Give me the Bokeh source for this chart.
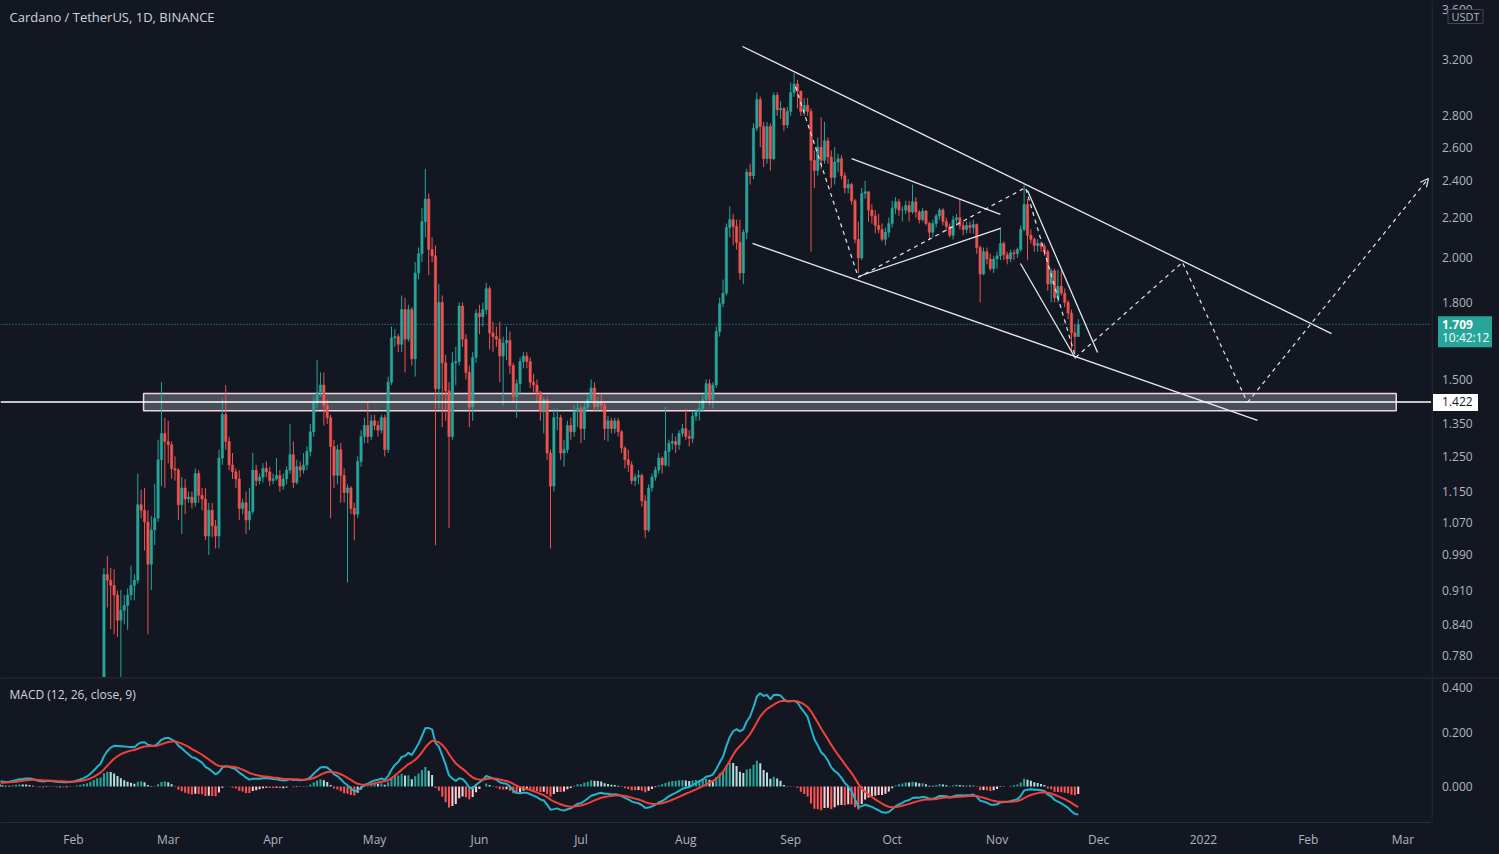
import math
import numpy as np
import pandas as pd
from bokeh.plotting import figure
from bokeh.layouts import column, row
from bokeh.models import (Range1d, FixedTicker, Span, Label, Arrow, OpenHead,
                          ColumnDataSource, CustomJSTickFormatter)
from bokeh.core.properties import value
from bokeh.embed import file_html
from bokeh.resources import INLINE

# ------------------------------------------------------------------ data
# daily closes before the visible price range (Jan 1 - Feb 9, 2021), used for MACD warm-up
early_close = [0.240, 0.250, 0.270, 0.290, 0.300, 0.310, 0.315, 0.305, 0.310, 0.320,
               0.285, 0.290, 0.310, 0.345, 0.360, 0.370, 0.360, 0.370, 0.360, 0.340,
               0.300, 0.320, 0.330, 0.365, 0.350, 0.350, 0.330, 0.350, 0.340, 0.350,
               0.365, 0.390, 0.410, 0.430, 0.460, 0.490, 0.560, 0.620, 0.680, 0.700]

feb_close = [0.945, 0.932, 0.921, 0.900, 0.848, 0.868, 0.878, 0.900, 0.921, 0.932, 1.115, 1.100, 1.070, 0.968, 1.050, 1.080, 1.240, 1.320, 1.295]
feb_high = [0.960, 0.987, 0.960, 0.957, 0.910, 0.911, 0.900, 0.914, 0.965, 0.945, 1.200, 1.155, 1.160, 1.100, 1.085, 1.170, 1.300, 1.490, 1.370]
feb_low = [0.680, 0.874, 0.830, 0.820, 0.815, 0.720, 0.840, 0.829, 0.889, 0.889, 0.925, 1.080, 1.000, 0.820, 0.911, 1.013, 1.070, 1.165, 1.160]

mar_close = [1.285, 1.215, 1.210, 1.115, 1.160, 1.130, 1.135, 1.120, 1.200, 1.140, 1.130, 1.035, 1.100, 1.060, 1.035, 1.245, 1.380, 1.295, 1.225, 1.205, 1.185, 1.105, 1.120, 1.075, 1.097, 1.210, 1.180, 1.190, 1.215, 1.205, 1.180]
mar_high = [1.360, 1.295, 1.250, 1.215, 1.190, 1.185, 1.150, 1.150, 1.215, 1.210, 1.160, 1.160, 1.120, 1.120, 1.075, 1.270, 1.435, 1.480, 1.310, 1.260, 1.215, 1.210, 1.130, 1.150, 1.160, 1.260, 1.225, 1.200, 1.230, 1.235, 1.220]
mar_low = [1.230, 1.185, 1.180, 1.075, 1.040, 1.090, 1.120, 1.105, 1.110, 1.120, 1.100, 1.025, 0.990, 1.032, 1.005, 1.005, 1.225, 1.270, 1.210, 1.185, 1.160, 1.075, 1.090, 1.040, 1.050, 1.090, 1.165, 1.170, 1.175, 1.190, 1.165]

apr_close = [1.185, 1.195, 1.165, 1.185, 1.210, 1.255, 1.175, 1.220, 1.210, 1.225, 1.265, 1.325, 1.420, 1.455, 1.480, 1.410, 1.370, 1.280, 1.195, 1.270, 1.195, 1.147, 1.160, 1.105, 1.090, 1.235, 1.310, 1.345, 1.310, 1.360]
apr_high = [1.200, 1.245, 1.210, 1.200, 1.220, 1.350, 1.295, 1.240, 1.235, 1.260, 1.280, 1.350, 1.440, 1.570, 1.525, 1.525, 1.430, 1.380, 1.300, 1.285, 1.290, 1.215, 1.170, 1.165, 1.120, 1.250, 1.330, 1.370, 1.420, 1.380]
apr_low = [1.170, 1.180, 1.150, 1.155, 1.170, 1.200, 1.160, 1.170, 1.190, 1.200, 1.210, 1.250, 1.310, 1.400, 1.440, 1.345, 1.350, 1.080, 1.160, 1.170, 1.120, 1.120, 0.927, 1.090, 1.025, 1.080, 1.220, 1.290, 1.290, 1.300]

may_close = [1.345, 1.330, 1.370, 1.270, 1.490, 1.655, 1.660, 1.630, 1.770, 1.650, 1.770, 1.575, 1.930, 2.020, 2.180, 2.300, 2.040, 2.010, 1.467, 1.800, 1.560, 1.460, 1.310, 1.560, 1.565, 1.785, 1.650, 1.525, 1.405, 1.580, 1.755]
may_high = [1.380, 1.360, 1.380, 1.380, 1.510, 1.700, 1.690, 1.670, 1.830, 1.820, 1.790, 1.780, 1.980, 2.050, 2.250, 2.470, 2.330, 2.100, 2.060, 1.880, 1.830, 1.590, 1.490, 1.600, 1.620, 1.800, 1.800, 1.670, 1.550, 1.600, 1.770]
may_low = [1.330, 1.310, 1.320, 1.250, 1.260, 1.480, 1.620, 1.600, 1.600, 1.525, 1.640, 1.550, 1.510, 1.900, 1.980, 2.100, 1.920, 1.980, 1.013, 1.400, 1.340, 1.360, 1.055, 1.300, 1.480, 1.550, 1.620, 1.500, 1.340, 1.360, 1.560]

jun_close = [1.740, 1.770, 1.860, 1.675, 1.660, 1.650, 1.585, 1.635, 1.645, 1.550, 1.440, 1.485, 1.565, 1.585, 1.565, 1.490, 1.480, 1.455, 1.390, 1.430, 1.260, 1.165, 1.370, 1.370, 1.260, 1.270, 1.345, 1.325, 1.390, 1.400]
jun_high = [1.790, 1.800, 1.885, 1.870, 1.720, 1.700, 1.720, 1.660, 1.700, 1.680, 1.560, 1.500, 1.580, 1.600, 1.600, 1.580, 1.520, 1.500, 1.460, 1.440, 1.440, 1.270, 1.400, 1.400, 1.380, 1.300, 1.360, 1.370, 1.410, 1.420]
jun_low = [1.670, 1.700, 1.750, 1.610, 1.600, 1.620, 1.490, 1.410, 1.570, 1.520, 1.420, 1.370, 1.450, 1.540, 1.540, 1.470, 1.450, 1.420, 1.360, 1.320, 1.240, 1.005, 1.150, 1.330, 1.240, 1.220, 1.260, 1.300, 1.310, 1.340]

jul_close = [1.335, 1.405, 1.430, 1.470, 1.405, 1.420, 1.410, 1.335, 1.360, 1.335, 1.360, 1.325, 1.275, 1.240, 1.225, 1.180, 1.190, 1.195, 1.125, 1.050, 1.160, 1.190, 1.210, 1.245, 1.225, 1.265, 1.290, 1.295, 1.285, 1.320, 1.335]
jul_high = [1.410, 1.420, 1.450, 1.500, 1.490, 1.440, 1.450, 1.420, 1.375, 1.370, 1.370, 1.370, 1.330, 1.280, 1.270, 1.235, 1.200, 1.210, 1.200, 1.140, 1.170, 1.200, 1.220, 1.260, 1.250, 1.405, 1.300, 1.320, 1.310, 1.330, 1.350]
jul_low = [1.290, 1.300, 1.395, 1.420, 1.390, 1.390, 1.390, 1.300, 1.295, 1.320, 1.320, 1.310, 1.260, 1.215, 1.205, 1.170, 1.165, 1.170, 1.110, 1.030, 1.045, 1.150, 1.180, 1.200, 1.200, 1.220, 1.220, 1.270, 1.260, 1.270, 1.310]

aug_close = [1.310, 1.305, 1.375, 1.390, 1.400, 1.430, 1.485, 1.430, 1.480, 1.680, 1.795, 1.840, 2.150, 2.190, 2.155, 2.075, 1.930, 2.125, 2.450, 2.430, 2.720, 2.910, 2.730, 2.530, 2.730, 2.530, 2.940, 2.840, 2.850, 2.740, 2.830]
aug_high = [1.400, 1.330, 1.390, 1.400, 1.420, 1.450, 1.500, 1.500, 1.490, 1.700, 1.820, 1.900, 2.170, 2.260, 2.220, 2.190, 2.190, 2.140, 2.470, 2.500, 2.750, 2.960, 2.930, 2.760, 2.760, 2.750, 2.960, 2.960, 2.900, 2.860, 2.860]
aug_low = [1.300, 1.280, 1.290, 1.360, 1.360, 1.390, 1.420, 1.410, 1.400, 1.470, 1.660, 1.780, 1.830, 2.100, 2.060, 2.040, 1.900, 1.880, 2.090, 2.380, 2.410, 2.700, 2.600, 2.480, 2.500, 2.460, 2.520, 2.800, 2.780, 2.700, 2.720]

sep_close = [2.960, 3.020, 2.970, 2.830, 2.870, 2.830, 2.520, 2.460, 2.600, 2.520, 2.640, 2.540, 2.420, 2.510, 2.530, 2.430, 2.360, 2.380, 2.290, 2.090, 2.000, 2.330, 2.340, 2.240, 2.210, 2.160, 2.140, 2.090, 2.125, 2.170]
sep_high = [3.030, 3.100, 3.050, 2.970, 2.920, 2.920, 2.850, 2.580, 2.660, 2.790, 2.760, 2.660, 2.580, 2.600, 2.560, 2.550, 2.450, 2.410, 2.390, 2.300, 2.180, 2.360, 2.400, 2.340, 2.270, 2.240, 2.220, 2.170, 2.150, 2.200]
sep_low = [2.800, 2.930, 2.850, 2.800, 2.800, 2.800, 2.030, 2.360, 2.430, 2.470, 2.500, 2.500, 2.360, 2.380, 2.450, 2.410, 2.330, 2.330, 2.270, 2.070, 1.930, 1.990, 2.300, 2.180, 2.170, 2.120, 2.120, 2.080, 2.060, 2.100]

oct_close = [2.250, 2.285, 2.240, 2.240, 2.265, 2.230, 2.285, 2.230, 2.190, 2.235, 2.170, 2.125, 2.170, 2.210, 2.240, 2.180, 2.155, 2.110, 2.190, 2.200, 2.160, 2.140, 2.160, 2.150, 2.165, 2.050, 1.925, 2.030, 1.995, 1.950, 1.995]
oct_high = [2.290, 2.310, 2.300, 2.260, 2.290, 2.290, 2.380, 2.310, 2.240, 2.250, 2.240, 2.180, 2.190, 2.220, 2.250, 2.250, 2.200, 2.170, 2.210, 2.220, 2.300, 2.180, 2.180, 2.180, 2.190, 2.170, 2.060, 2.050, 2.050, 2.020, 2.010]
oct_low = [2.150, 2.220, 2.210, 2.180, 2.220, 2.180, 2.220, 2.200, 2.170, 2.180, 2.160, 2.090, 2.100, 2.150, 2.190, 2.160, 2.130, 2.100, 2.090, 2.160, 2.140, 2.110, 2.120, 2.120, 2.120, 2.020, 1.800, 1.920, 1.970, 1.940, 1.930]

nov_close = [2.010, 2.070, 2.015, 1.995, 2.025, 2.020, 2.040, 2.140, 2.270, 2.110, 2.090, 2.060, 2.070, 2.055, 2.030, 1.880, 1.940, 1.820, 1.870, 1.840, 1.800, 1.755, 1.675, 1.660, 1.709]
nov_high = [2.030, 2.150, 2.080, 2.030, 2.040, 2.040, 2.050, 2.160, 2.380, 2.300, 2.140, 2.100, 2.090, 2.080, 2.070, 2.040, 1.950, 1.950, 1.945, 1.940, 1.860, 1.810, 1.770, 1.710, 1.730]
nov_low = [1.950, 1.990, 1.990, 1.970, 1.980, 1.990, 2.000, 2.030, 2.130, 1.990, 2.070, 2.030, 2.030, 2.030, 2.010, 1.850, 1.800, 1.800, 1.800, 1.830, 1.780, 1.730, 1.600, 1.590, 1.660]

price_ticks = [3.6, 3.2, 2.8, 2.6, 2.4, 2.2, 2.0, 1.8, 1.5, 1.35, 1.25, 1.15, 1.07, 0.99, 0.91, 0.84, 0.78]
price_tick_labels = ["3.600", "3.200", "2.800", "2.600", "2.400", "2.200", "2.000", "1.800", "1.500",
                     "1.350", "1.250", "1.150", "1.070", "0.990", "0.910", "0.840", "0.780"]
macd_ticks = [0.4, 0.2, 0.0]
macd_tick_labels = ["0.400", "0.200", "0.000"]
month_ticks = ["2021-02-01", "2021-03-01", "2021-04-01", "2021-05-01", "2021-06-01", "2021-07-01",
               "2021-08-01", "2021-09-01", "2021-10-01", "2021-11-01", "2021-12-01", "2022-01-01",
               "2022-02-01", "2022-03-01"]

last_price = 1.709
countdown = "10:42:12"
level_price = 1.422
currency = "USDT"
zone = {"left": "2021-02-21 17:00", "right": "2022-02-27 00:00", "bottom": 1.393, "top": 1.451}

# drawings (time, price)
channel_upper = {"t": ["2021-08-17 18:00", "2022-02-07 21:00"], "p": [3.30, 1.672]}
channel_lower = {"t": ["2021-08-20 17:00", "2022-01-17 00:00"], "p": [2.07, 1.361]}
flag_upper = {"t": ["2021-09-19 00:00", "2021-11-02 00:00"], "p": [2.531, 2.217]}
flag_lower = {"t": ["2021-09-21 00:00", "2021-11-02 00:00"], "p": [1.914, 2.145]}
wedge_left = {"t": ["2021-11-07 22:00", "2021-11-24 05:00"], "p": [1.974, 1.576]}
wedge_right = {"t": ["2021-11-10 00:00", "2021-11-30 17:00"], "p": [2.346, 1.599]}
path_dashed = {"t": ["2021-09-02 10:00", "2021-09-21 00:00", "2021-11-09 10:00", "2021-11-24 05:00",
                     "2021-12-25 19:00", "2022-01-14 00:00"],
               "p": [3.00, 1.91, 2.363, 1.58, 1.979, 1.42]}
path_arrow_end = {"t": "2022-03-08 12:00", "p": 2.414}

# ------------------------------------------------------------------ build series
months = [("2021-02-10", feb_close, feb_high, feb_low), ("2021-03-01", mar_close, mar_high, mar_low),
          ("2021-04-01", apr_close, apr_high, apr_low), ("2021-05-01", may_close, may_high, may_low),
          ("2021-06-01", jun_close, jun_high, jun_low), ("2021-07-01", jul_close, jul_high, jul_low),
          ("2021-08-01", aug_close, aug_high, aug_low), ("2021-09-01", sep_close, sep_high, sep_low),
          ("2021-10-01", oct_close, oct_high, oct_low), ("2021-11-01", nov_close, nov_high, nov_low)]
dates, closes, highs, lows = [], [], [], []
for start, c, h, l in months:
    dates.extend(pd.date_range(start, periods=len(c), freq="D"))
    closes.extend(c); highs.extend(h); lows.extend(l)
opens = [early_close[-1]] + closes[:-1]
highs = [max(h, o, c) for h, o, c in zip(highs, opens, closes)]
lows = [min(l, o, c) for l, o, c in zip(lows, opens, closes)]

UP, DOWN = "#26A69A", "#EF5350"
cols = [UP if c >= o else DOWN for o, c in zip(opens, closes)]
candles = ColumnDataSource(dict(
    x=dates, high=highs, low=lows,
    top=[max(o, c) for o, c in zip(opens, closes)],
    bottom=[min(o, c) for o, c in zip(opens, closes)],
    color=cols))

all_dates = list(pd.date_range("2021-01-01", periods=len(early_close), freq="D")) + dates
s = pd.Series(early_close + closes)
macd = s.ewm(span=12, adjust=False).mean() - s.ewm(span=26, adjust=False).mean()
signal = macd.ewm(span=9, adjust=False).mean()
hist = macd - signal
prev_h = hist.shift(1).fillna(0)
hcol = np.where(hist >= 0, np.where(hist > prev_h, "#26A69A", "#B2DFDB"),
                np.where(hist > prev_h, "#FFCDD2", "#FF5252"))
msrc = ColumnDataSource(dict(x=all_dates, macd=macd, signal=signal, hist=hist, color=list(hcol)))

# ------------------------------------------------------------------ styling constants
BG = "#131722"
GRID = "#2A2E39"
TXT = "#B2B5BE"
FONT = "Open Sans"
DAY = 86400000
PANE_W, AXIS_W = 1431, 68
MAIN_H, MACD_H, TIME_H = 677, 145, 32
Y_MIN, Y_MAX = 0.7404, 3.680
M_MIN, M_MAX = -0.1333, 0.402
t0 = pd.Timestamp("2021-01-01")
xr = Range1d(t0 + pd.Timedelta(days=9.42), t0 + pd.Timedelta(days=432.42))
yr = Range1d(Y_MIN, Y_MAX)
mr = Range1d(M_MIN, M_MAX)
K = MAIN_H / math.log(Y_MAX / Y_MIN)          # pixels per log-unit of price


def shift(price, px_down):
    """price that lies px_down screen pixels below `price` on the log price scale"""
    return price * math.exp(-px_down / K)


def base(fig):
    fig.grid.visible = False
    return fig


# ------------------------------------------------------------------ main price pane
p = base(figure(x_axis_type="datetime", y_axis_type="log", x_range=xr, y_range=yr,
                frame_width=PANE_W, frame_height=MAIN_H, x_axis_location=None, y_axis_location=None,
                output_backend="svg", toolbar_location=None, min_border=0,
                background_fill_color=BG, border_fill_color=BG, outline_line_color=None))

p.quad(left=[pd.Timestamp(zone["left"])], right=[pd.Timestamp(zone["right"])],
       bottom=[zone["bottom"]], top=[zone["top"]], fill_color="#787B86", fill_alpha=0.55,
       line_color="#F3D3DE", line_width=1.5)
p.add_layout(Span(location=level_price, dimension="width", line_color="#FFFFFF", line_width=1.5))
p.add_layout(Span(location=last_price, dimension="width", line_color="#26A69A",
                  line_width=1, line_dash="1 2"))

p.segment(x0="x", y0="low", x1="x", y1="high", color="color", line_width=1, source=candles)
p.vbar(x="x", width=0.7 * DAY, top="top", bottom="bottom", fill_color="color",
       line_color="color", line_width=0.5, source=candles)

LC = "#E6E8EE"
for d in (channel_upper, channel_lower, flag_upper, flag_lower, wedge_left, wedge_right):
    p.line(pd.to_datetime(d["t"]), d["p"], line_color=LC, line_width=1.3)
p.line(pd.to_datetime(path_dashed["t"]), path_dashed["p"], line_color=LC, line_width=1.2,
       line_dash="4 4")
xs = pd.Timestamp(path_dashed["t"][-1]).value / 1e6
xe = pd.Timestamp(path_arrow_end["t"]).value / 1e6
p.add_layout(Arrow(x_start=xs, y_start=path_dashed["p"][-1], x_end=xe, y_end=path_arrow_end["p"],
                   line_color=LC, line_width=1.2, line_dash="4 4",
                   end=OpenHead(size=8, line_color=LC, line_width=1.2)))

p.add_layout(Label(x=9, y=MAIN_H - 16, x_units="screen", y_units="screen",
                   text="Cardano / TetherUS, 1D, BINANCE", text_color="#D1D4DC",
                   text_font=FONT, text_font_size="13px", text_baseline="middle"))

# ------------------------------------------------------------------ price scale column
pa = base(figure(x_range=Range1d(-0.5, AXIS_W - 0.5), y_axis_type="log", y_range=yr,
                 frame_width=AXIS_W, frame_height=MAIN_H, x_axis_location=None, y_axis_location=None,
                 output_backend="svg", toolbar_location=None, min_border=0,
                 background_fill_color=BG, border_fill_color=BG, outline_line_color=None))
pa.add_layout(Span(location=0, dimension="height", line_color=GRID, line_width=1))
pa.text(x=[10] * len(price_ticks), y=price_ticks, text=price_tick_labels, text_color=TXT,
        text_font=value(FONT), text_font_size="12px", text_baseline="middle", text_align="left")
# currency badge
pa.quad(left=[16], right=[51], top=[shift(Y_MAX, 9)], bottom=[shift(Y_MAX, 23)],
        fill_color=BG, line_color="#434651", line_width=1)
pa.text(x=[33.5], y=[shift(Y_MAX, 16)], text=[currency], text_color=TXT, text_font=value(FONT),
        text_font_size="11px", text_baseline="middle", text_align="center")
# last price badge
pa.quad(left=[6], right=[60], top=[shift(last_price, -8)], bottom=[shift(last_price, 23)],
        fill_color="#26A69A", line_color=None)
pa.text(x=[10], y=[last_price], text=[f"{last_price:.3f}"], text_color="#FFFFFF",
        text_font=value(FONT), text_font_size="12px", text_font_style="bold",
        text_baseline="middle", text_align="left")
pa.text(x=[10], y=[shift(last_price, 13.5)], text=[countdown], text_color="#FFFFFF",
        text_font=value(FONT), text_font_size="12px", text_baseline="middle", text_align="left")
# horizontal level badge
pa.quad(left=[1], right=[46], top=[shift(level_price, -8)], bottom=[shift(level_price, 9)],
        fill_color="#FFFFFF", line_color=None)
pa.text(x=[10], y=[level_price], text=[f"{level_price:.3f}"], text_color="#131722",
        text_font=value(FONT), text_font_size="12px", text_baseline="middle", text_align="left")

# ------------------------------------------------------------------ MACD pane
q = base(figure(x_axis_type="datetime", x_range=xr, y_range=mr,
                frame_width=PANE_W, frame_height=MACD_H, y_axis_location=None,
                output_backend="svg", toolbar_location=None, min_border=0,
                min_border_bottom=TIME_H, background_fill_color=BG,
                border_fill_color=BG, outline_line_color=None))
q.add_layout(Span(location=M_MAX, dimension="width", line_color=GRID, line_width=2))
q.vbar(x="x", width=0.6 * DAY, top="hist", bottom=0, fill_color="color", line_color=None, source=msrc)
q.line("x", "macd", line_color="#22B5CC", line_width=2, source=msrc)
q.line("x", "signal", line_color="#F2413A", line_width=2, source=msrc)
qx = q.xaxis[0]
qx.ticker = FixedTicker(ticks=[pd.Timestamp(m).value / 1e6 for m in month_ticks], minor_ticks=[])
qx.formatter = CustomJSTickFormatter(code="""
const d = new Date(tick);
const m = d.getUTCMonth();
const n = ['Jan','Feb','Mar','Apr','May','Jun','Jul','Aug','Sep','Oct','Nov','Dec'];
return m == 0 ? String(d.getUTCFullYear()) : n[m];
""")
qx.axis_line_color = GRID
qx.major_tick_line_color = None
qx.minor_tick_line_color = None
qx.major_tick_out = 0
qx.major_tick_in = 0
qx.major_label_standoff = 8
qx.major_label_text_color = TXT
qx.major_label_text_font = FONT
qx.major_label_text_font_size = "12px"
q.add_layout(Label(x=9, y=MACD_H - 17, x_units="screen", y_units="screen",
                   text="MACD (12, 26, close, 9)", text_color="#D1D4DC",
                   text_font=FONT, text_font_size="12px", text_baseline="middle"))

qa = base(figure(x_range=Range1d(-0.5, AXIS_W - 0.5), y_range=mr,
                 frame_width=AXIS_W, frame_height=MACD_H, x_axis_location=None, y_axis_location=None,
                 output_backend="svg", toolbar_location=None, min_border=0,
                 min_border_bottom=TIME_H, background_fill_color=BG,
                 border_fill_color=BG, outline_line_color=None))
qa.add_layout(Span(location=0, dimension="height", line_color=GRID, line_width=1))
qa.add_layout(Span(location=M_MAX, dimension="width", line_color=GRID, line_width=2))
qa.text(x=[10], y=macd_ticks[:1], text=macd_tick_labels[:1], text_color=TXT, text_font=value(FONT),
        text_font_size="12px", text_baseline="top", text_align="left", y_offset=5)
qa.text(x=[10] * 2, y=macd_ticks[1:], text=macd_tick_labels[1:], text_color=TXT, text_font=value(FONT),
        text_font_size="12px", text_baseline="middle", text_align="left")

layout = column(row(p, pa, spacing=0), row(q, qa, spacing=0), spacing=0, background=BG)
open("out.html", "w").write(file_html(layout, INLINE))
